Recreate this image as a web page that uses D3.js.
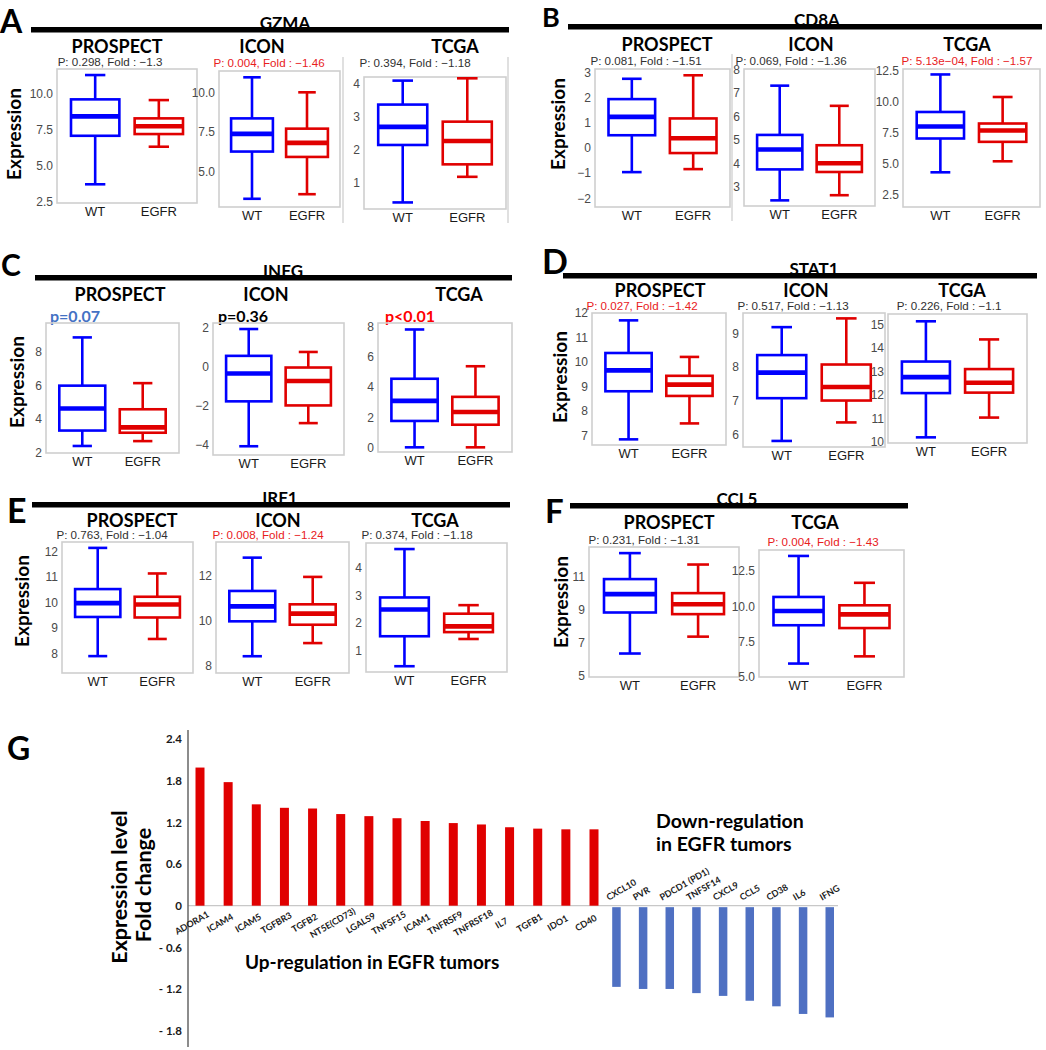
<!DOCTYPE html>
<html><head><meta charset="utf-8">
<script src="https://cdn.jsdelivr.net/npm/d3@7"></script>
<style>
body{margin:0;background:#fff}
svg{display:block}
.cal{font-family:Lato,'Open Sans',sans-serif;font-weight:700}
.gg{font-family:'Liberation Sans',Arial,sans-serif}
</style>
</head><body>
<svg id="c" width="1046" height="1050"></svg>
<script>
// ---------- DATA ----------
const GROUPS = ["WT", "EGFR"];
// five-number summaries [min, q1, median, q3, max] : [WT, EGFR]
const GZMA_PROSPECT = [[3.73, 7.10, 8.45, 9.63, 11.32], [6.34, 7.22, 7.76, 8.31, 9.58]];
const GZMA_ICON     = [[3.26, 6.25, 7.37, 8.35, 10.95], [3.55, 5.91, 6.80, 7.70, 10.0]];
const GZMA_TCGA     = [[0.39, 2.14, 2.69, 3.37, 4.10], [1.17, 1.55, 2.26, 2.85, 4.17]];
const CD8A_PROSPECT = [[-0.96, 0.51, 1.24, 1.95, 2.76], [-0.84, -0.20, 0.39, 1.18, 2.90]];
const CD8A_ICON     = [[2.42, 3.74, 4.59, 5.21, 7.31], [2.64, 3.63, 4.00, 4.77, 6.45]];
const CD8A_TCGA     = [[4.30, 7.03, 8.00, 9.17, 12.20], [5.19, 6.76, 7.67, 8.24, 10.38]];
const INFG_PROSPECT = [[2.38, 3.30, 4.62, 5.98, 8.86], [2.67, 3.17, 3.49, 4.57, 6.13]];
const INFG_ICON     = [[-4.10, -1.79, -0.36, 0.55, 1.93], [-2.91, -2.00, -0.74, -0.05, 0.75]];
const INFG_TCGA     = [[0.0, 1.75, 3.08, 4.55, 7.82], [0.0, 1.50, 2.34, 3.35, 5.38]];
const STAT1_PROSPECT = [[6.85, 8.81, 9.66, 10.37, 11.70], [7.50, 8.62, 9.08, 9.44, 10.21]];
const STAT1_ICON     = [[5.80, 7.07, 7.83, 8.35, 9.18], [6.35, 7.00, 7.40, 8.07, 9.44]];
const STAT1_TCGA     = [[10.20, 12.08, 12.76, 13.42, 15.13], [11.04, 12.10, 12.52, 13.10, 14.36]];
const IRF1_PROSPECT = [[7.90, 9.43, 9.97, 10.52, 12.13], [8.57, 9.41, 9.92, 10.22, 11.13]];
const IRF1_ICON     = [[8.43, 9.97, 10.63, 11.31, 12.78], [9.01, 9.82, 10.31, 10.72, 11.93]];
const IRF1_TCGA     = [[0.43, 1.52, 2.49, 2.93, 4.69], [1.42, 1.67, 1.88, 2.34, 2.65]];
const CCL5_PROSPECT = [[6.34, 8.82, 9.93, 10.84, 12.41], [7.36, 8.72, 9.32, 9.99, 11.72]];
const CCL5_TCGA     = [[5.95, 8.66, 9.67, 10.66, 13.56], [6.46, 8.46, 9.43, 10.07, 11.66]];

// y tick labels
const T_GZMA_PROSPECT = [2.5, 5.0, 7.5, 10.0];
const T_GZMA_ICON = [5.0, 7.5, 10.0];
const T_GZMA_TCGA = [1, 2, 3, 4];
const T_CD8A_PROSPECT = [-2, -1, 0, 1, 2, 3];
const T_CD8A_ICON = [3, 4, 5, 6, 7, 8];
const T_CD8A_TCGA = [2.5, 5.0, 7.5, 10.0, 12.5];
const T_INFG_PROSPECT = [2, 4, 6, 8];
const T_INFG_ICON = [-4, -2, 0, 2];
const T_INFG_TCGA = [0, 2, 4, 6, 8];
const T_STAT1_PROSPECT = [7, 8, 9, 10, 11, 12];
const T_STAT1_ICON = [6, 7, 8, 9];
const T_STAT1_TCGA = [10, 11, 12, 13, 14, 15];
const T_IRF1_PROSPECT = [8, 9, 10, 11, 12];
const T_IRF1_ICON = [8, 10, 12];
const T_IRF1_TCGA = [1, 2, 3, 4];
const T_CCL5_PROSPECT = [5, 7, 9, 11];
const T_CCL5_TCGA = [5.0, 7.5, 10.0, 12.5];

// headers / annotations
const PANEL_LETTERS = ["A", "B", "C", "D", "E", "F", "G"];
const GENES = ["GZMA", "CD8A", "INFG", "STAT1", "IRF1", "CCL5"];
const COHORTS = ["PROSPECT", "ICON", "TCGA"];
const P_A = ["P: 0.298, Fold : \u22121.3", "P: 0.004, Fold : \u22121.46", "P: 0.394, Fold : \u22121.18"];
const P_B = ["P: 0.081, Fold : \u22121.51", "P: 0.069, Fold : \u22121.36", "P: 5.13e\u221204, Fold : \u22121.57"];
const P_C = ["p=0.07", "p=0.36", "p<0.01"];
const P_D = ["P: 0.027, Fold : \u22121.42", "P: 0.517, Fold : \u22121.13", "P: 0.226, Fold : \u22121.1"];
const P_E = ["P: 0.763, Fold : \u22121.04", "P: 0.008, Fold : \u22121.24", "P: 0.374, Fold : \u22121.18"];
const P_F = ["P: 0.231, Fold : \u22121.31", "P: 0.004, Fold : \u22121.43"];

// panel G
const UP_GENES = ["ADORA1","ICAM4","ICAM5","TGFBR3","TGFB2","NT5E(CD73)","LGALS9","TNFSF15","ICAM1","TNFRSF9","TNFRSF18","IL7","TGFB1","IDO1","CD40"];
const UP_FOLD = [1.99, 1.78, 1.46, 1.41, 1.40, 1.32, 1.29, 1.26, 1.22, 1.19, 1.17, 1.13, 1.11, 1.10, 1.10];
const DOWN_GENES = ["CXCL10","PVR","PDCD1 (PD1)","TNFSF14","CXCL9","CCL5","CD38","IL6","IFNG"];
const DOWN_FOLD = [-1.17, -1.20, -1.20, -1.26, -1.30, -1.37, -1.45, -1.56, -1.61];
const G_TICKS = [-1.8, -1.2, -0.6, 0, 0.6, 1.2, 1.8, 2.4];

// ---------- STYLE ----------
const BLUE = "#0000ff", RED = "#e00000", PRED = "#e8201c", PTXT = "#303030";
const svg = d3.select("#c");

function txt(s, x, y, cls, size, opts = {}) {
  const t = svg.append("text").attr("class", cls).attr("x", x).attr("y", y)
    .attr("font-size", size).attr("fill", opts.fill || "#000")
    .attr("text-anchor", opts.anchor || "middle").text(s);
  if (opts.rotate !== undefined) t.attr("transform", `rotate(${opts.rotate},${x},${y})`);
  if (opts.weight) t.attr("font-weight", opts.weight);
  return t;
}

function header(letter, lx, ly, lsize, gene, gx, bar) {
  txt(letter, lx, ly, "cal", lsize, { anchor: "start" });
  txt(gene, gx, bar[2] + 1.5, "cal", 17);
  svg.append("line").attr("x1", bar[0]).attr("x2", bar[1])
    .attr("y1", bar[2] + 2.75).attr("y2", bar[2] + 2.75)
    .attr("stroke", "#000").attr("stroke-width", 5.5);
}

function minus(s) { return s.replace("-", "\u2212"); }

function boxplot(data, ticks, fmt, f, dom) {
  const [x0, y0, x1, y1] = f;
  const y = d3.scaleLinear().domain(dom).range([y1, y0]);
  const x = d3.scaleBand().domain(GROUPS).range([x0, x1]).paddingInner(0.24).paddingOuter(0.22);
  const g = svg.append("g");
  g.append("rect").attr("x", x0).attr("y", y0).attr("width", x1 - x0).attr("height", y1 - y0)
    .attr("fill", "none").attr("stroke", "#cfcfcf").attr("stroke-width", 1.6);
  const ya = g.append("g").attr("transform", `translate(${x0},0)`)
    .call(d3.axisLeft(y).tickValues(ticks).tickSize(0).tickPadding(4).tickFormat(v => minus(d3.format(fmt)(v))));
  ya.select(".domain").remove();
  ya.selectAll("text").attr("class", "gg").attr("font-size", 12).attr("fill", "#4a4a4a").attr("font-family", null);
  const xa = g.append("g").attr("transform", `translate(0,${y1})`)
    .call(d3.axisBottom(x).tickSize(0).tickPadding(4));
  xa.select(".domain").remove();
  xa.selectAll("text").attr("class", "gg").attr("font-size", 13).attr("fill", "#1a1a1a").attr("font-family", null);
  GROUPS.forEach((grp, i) => {
    const d = data[i], col = i === 0 ? BLUE : RED;
    const bx = x(grp), bw = x.bandwidth(), cx = bx + bw / 2, cw = bw * 0.21;
    const s = g.append("g").attr("stroke", col).attr("fill", "none").attr("stroke-width", 2.6);
    s.append("line").attr("x1", cx).attr("x2", cx).attr("y1", y(d[0])).attr("y2", y(d[1]));
    s.append("line").attr("x1", cx).attr("x2", cx).attr("y1", y(d[3])).attr("y2", y(d[4]));
    s.append("line").attr("x1", cx - cw).attr("x2", cx + cw).attr("y1", y(d[0])).attr("y2", y(d[0]));
    s.append("line").attr("x1", cx - cw).attr("x2", cx + cw).attr("y1", y(d[4])).attr("y2", y(d[4]));
    s.append("rect").attr("x", bx).attr("y", y(d[3])).attr("width", bw).attr("height", y(d[1]) - y(d[3]));
    s.append("line").attr("x1", bx).attr("x2", bx + bw).attr("y1", y(d[2])).attr("y2", y(d[2])).attr("stroke-width", 4.6);
  });
}

function sep(x, ya, yb) {
  svg.append("line").attr("x1", x).attr("x2", x).attr("y1", ya).attr("y2", yb)
    .attr("stroke", "#cccccc").attr("stroke-width", 1.2);
}
function expr(x, y) { txt("Expression", x, y, "cal", 19, { rotate: -90 }); }
function ptext(s, x, y, red) { txt(s, x, y, "gg", 11.6, { fill: red ? PRED : PTXT }); }

// ---------- PANEL A ----------
header(PANEL_LETTERS[0], 0, 33, 32, GENES[0], 285, [31, 509, 27]);
sep(343, 57, 223); sep(508, 57, 223);
txt(COHORTS[0], 117, 53, "cal", 18); txt(COHORTS[1], 262, 53, "cal", 18); txt(COHORTS[2], 455, 53, "cal", 18);
ptext(P_A[0], 110, 65.5, false); ptext(P_A[1], 269, 66.5, true); ptext(P_A[2], 415, 67, false);
boxplot(GZMA_PROSPECT, T_GZMA_PROSPECT, ".1f", [57, 69, 197, 203], [2.43, 11.74]);
boxplot(GZMA_ICON, T_GZMA_ICON, ".1f", [219, 71, 340, 207], [2.74, 11.35]);
boxplot(GZMA_TCGA, T_GZMA_TCGA, "d", [364, 77, 506, 209], [0.19, 4.21]);
expr(21, 134);

// ---------- PANEL B ----------
header(PANEL_LETTERS[1], 542, 27, 27, GENES[1], 817, [568, 1042, 24]);
sep(732, 54, 221);
txt(COHORTS[0], 667, 50.5, "cal", 18); txt(COHORTS[1], 811, 50.5, "cal", 18); txt(COHORTS[2], 967, 50.5, "cal", 18);
ptext(P_B[0], 646, 64.5, false); ptext(P_B[1], 791, 64.5, false); ptext(P_B[2], 967, 64.5, true);
boxplot(CD8A_PROSPECT, T_CD8A_PROSPECT, "d", [595, 69, 730, 207], [-2.35, 3.15]);
boxplot(CD8A_ICON, T_CD8A_ICON, "d", [744, 69, 875, 206], [2.18, 8.02]);
boxplot(CD8A_TCGA, T_CD8A_TCGA, ".1f", [903, 69, 1040, 207], [1.5, 12.64]);
expr(565, 124);

// ---------- PANEL C ----------
header(PANEL_LETTERS[2], 1, 276, 30, GENES[2], 283, [35, 512, 275]);
txt(COHORTS[0], 120, 300.5, "cal", 18); txt(COHORTS[1], 266, 300.5, "cal", 18); txt(COHORTS[2], 459, 300.5, "cal", 18);
txt(P_C[0], 50, 322, "cal", 16, { anchor: "start", fill: "#4472c4" });
txt(P_C[1], 218, 322, "cal", 16, { anchor: "start", fill: "#000" });
txt(P_C[2], 385, 322, "cal", 16, { anchor: "start", fill: "#ff0000" });
boxplot(INFG_PROSPECT, T_INFG_PROSPECT, "d", [46, 323, 179, 453], [1.96, 9.72]);
boxplot(INFG_ICON, T_INFG_ICON, "d", [213, 323, 344, 455], [-4.55, 2.24]);
boxplot(INFG_TCGA, T_INFG_TCGA, "d", [378, 323, 512, 452], [-0.31, 8.25]);
expr(24, 382);

// ---------- PANEL D ----------
header(PANEL_LETTERS[3], 542, 274, 34, GENES[3], 814, [563, 1037, 273]);
txt(COHORTS[0], 660, 297, "cal", 18); txt(COHORTS[1], 806, 297, "cal", 18); txt(COHORTS[2], 962, 297, "cal", 18);
ptext(P_D[0], 642, 309.5, true); ptext(P_D[1], 793, 309.5, false); ptext(P_D[2], 949, 310, false);
boxplot(STAT1_PROSPECT, T_STAT1_PROSPECT, "d", [592, 313, 726, 445], [6.62, 12.0]);
boxplot(STAT1_ICON, T_STAT1_ICON, "d", [743, 313, 885, 447], [5.62, 9.6]);
boxplot(STAT1_TCGA, T_STAT1_TCGA, "d", [888, 314, 1027, 443], [9.96, 15.44]);
expr(567, 377);

// ---------- PANEL E ----------
header(PANEL_LETTERS[4], 7, 523, 34, GENES[4], 280, [32, 510, 502]);
txt(COHORTS[0], 132, 527, "cal", 18); txt(COHORTS[1], 278, 527, "cal", 18); txt(COHORTS[2], 435, 527, "cal", 18);
ptext(P_E[0], 112, 538.5, false); ptext(P_E[1], 268, 538.5, true); ptext(P_E[2], 417, 538.5, false);
boxplot(IRF1_PROSPECT, T_IRF1_PROSPECT, "d", [62, 542, 193, 673], [7.24, 12.36]);
boxplot(IRF1_ICON, T_IRF1_ICON, "d", [216, 542, 349, 673], [7.69, 13.47]);
boxplot(IRF1_TCGA, T_IRF1_TCGA, "d", [366, 543, 507, 672], [0.22, 4.91]);
expr(29, 601);

// ---------- PANEL F ----------
header(PANEL_LETTERS[5], 545, 523, 33, GENES[5], 737, [570, 908, 503]);
txt(COHORTS[0], 669, 528.5, "cal", 18); txt(COHORTS[2], 815, 528.5, "cal", 18);
ptext(P_F[0], 644, 544, false); ptext(P_F[1], 823, 545.5, true);
boxplot(CCL5_PROSPECT, T_CCL5_PROSPECT, "d", [589, 547, 739, 677], [4.92, 12.78]);
boxplot(CCL5_TCGA, T_CCL5_TCGA, ".1f", [759, 550, 904, 677], [5.0, 13.98]);
expr(568, 602);

// ---------- PANEL G ----------
txt(PANEL_LETTERS[6], 7, 760, "cal", 32, { anchor: "start" });
const gy = d3.scaleLinear().domain([-1.8, 2.4]).range([1030.6, 739.1]);
const gxUp = d3.scalePoint().domain(UP_GENES).range([200, 594]);
const gxDown = d3.scalePoint().domain(DOWN_GENES).range([616.7, 830]);
const bwG = 9;
// zero line
svg.append("line").attr("x1", 188).attr("x2", 838).attr("y1", gy(0)).attr("y2", gy(0))
  .attr("stroke", "#c8c8c8").attr("stroke-width", 1.2);
// y axis
const gya = svg.append("g").attr("transform", "translate(188,0)")
  .call(d3.axisLeft(gy).tickValues(G_TICKS).tickSize(0).tickPadding(6)
    .tickFormat(v => v === 0 ? "0" : (v < 0 ? "- " + Math.abs(v).toFixed(1) : v.toFixed(1))));
gya.select(".domain").remove();
gya.selectAll("text").attr("class", "cal").attr("font-family", null).attr("font-size", 11.5).attr("fill", "#1a1a1a");
svg.append("line").attr("x1", 188).attr("x2", 188).attr("y1", 730).attr("y2", 1047)
  .attr("stroke", "#666").attr("stroke-width", 1.5);
// bars
svg.append("g").selectAll("rect").data(UP_GENES).join("rect")
  .attr("x", d => gxUp(d) - bwG / 2).attr("width", bwG)
  .attr("y", (d, i) => gy(UP_FOLD[i])).attr("height", (d, i) => gy(0) - gy(UP_FOLD[i]))
  .attr("fill", "#e00000");
svg.append("g").selectAll("rect").data(DOWN_GENES).join("rect")
  .attr("x", d => gxDown(d) - bwG / 2).attr("width", bwG - 0.5)
  .attr("y", gy(0) + 1.5).attr("height", (d, i) => gy(DOWN_FOLD[i]) - gy(0) - 1.5)
  .attr("fill", "#4f70c2");
// category labels
UP_GENES.forEach(g => txt(g, gxUp(g) - 6.5, gy(0) + 20, "cal", 9, { rotate: -30, fill: "#1a1a1a" }));
DOWN_GENES.forEach(g => txt(g, gxDown(g) - 8, gy(0) - 5, "cal", 9, { rotate: -30, fill: "#1a1a1a", anchor: "start" }));
// titles
txt("Expression level", 127, 887, "cal", 21.5, { rotate: -90 });
txt("Fold change", 151, 885, "cal", 21.5, { rotate: -90 });
txt("Up-regulation in EGFR tumors", 245, 969, "cal", 19, { anchor: "start", weight: 600 });
txt("Down-regulation", 656, 828, "cal", 19.5, { anchor: "start", weight: 600 });
txt("in EGFR tumors", 656, 851, "cal", 19.5, { anchor: "start", weight: 600 });
</script>
</body></html>
